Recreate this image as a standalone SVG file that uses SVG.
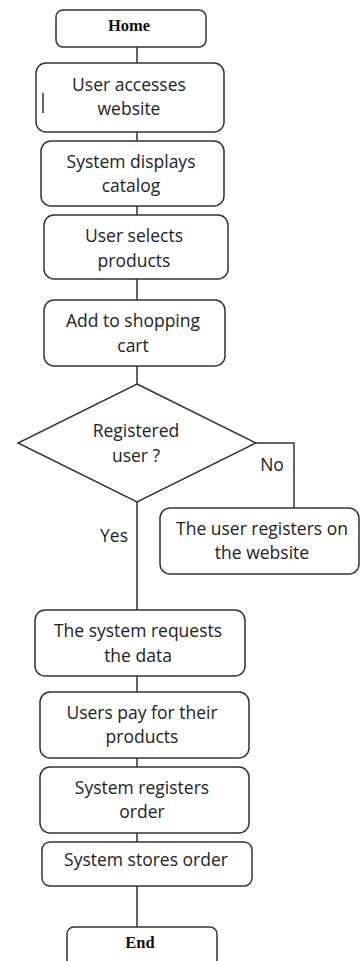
<svg xmlns="http://www.w3.org/2000/svg" width="360" height="961" viewBox="0 0 360 961">
<style>
.box{fill:#fff;stroke:#333;stroke-width:1.5}
.t{font-family:"Open Sans","Liberation Sans",sans-serif;font-size:17.5px;fill:#222;text-anchor:middle}
.s{font-family:"Liberation Serif",serif;font-size:16.5px;font-weight:bold;fill:#111;text-anchor:middle}
.c{fill:none;stroke:#333;stroke-width:1.5}
</style>
<rect width="360" height="961" fill="#fff"/>
<g id="connectors">
<path class="c" d="M137 47V63M137 132V141M137 206V215M137 279V300M137 366V384M137 502V610M137 676V692M137 758V767M137 833V842M137 886V927"/>
<path class="c" d="M256 443H294V508"/>
<text class="t" x="114" y="542">Yes</text>
<text class="t" x="272" y="471">No</text>
</g>
<g id="home"><rect class="box" x="56" y="10" width="150" height="37" rx="7"/><text class="s" x="129" y="31">Home</text></g>
<g id="access"><rect class="box" x="36" y="63" width="188" height="69" rx="10"/><text class="t" x="129" y="91">User accesses</text><text class="t" x="129" y="115">website</text><path class="c" d="M43 93V113"/></g>
<g id="catalog"><rect class="box" x="41" y="141" width="183" height="65" rx="10"/><text class="t" x="131" y="168">System displays</text><text class="t" x="131" y="192">catalog</text></g>
<g id="select"><rect class="box" x="44" y="215" width="184" height="64" rx="10"/><text class="t" x="134" y="242">User selects</text><text class="t" x="134" y="267">products</text></g>
<g id="cart"><rect class="box" x="44" y="300" width="181" height="66" rx="10"/><text class="t" x="133" y="327">Add to shopping</text><text class="t" x="133" y="352">cart</text></g>
<g id="decision"><polygon class="box" points="137,384 256,443 137,502 18,443"/><text class="t" x="136" y="437">Registered</text><text class="t" x="136" y="462">user ?</text></g>
<g id="register"><rect class="box" x="160" y="508" width="199" height="66" rx="10"/><text class="t" x="262" y="535">The user registers on</text><text class="t" x="262" y="559">the website</text></g>
<g id="request"><rect class="box" x="35" y="610" width="210" height="66" rx="10"/><text class="t" x="138" y="637">The system requests</text><text class="t" x="138" y="662">the data</text></g>
<g id="pay"><rect class="box" x="40" y="692" width="209" height="66" rx="10"/><text class="t" x="142" y="719">Users pay for their</text><text class="t" x="142" y="743">products</text></g>
<g id="regorder"><rect class="box" x="40" y="767" width="209" height="66" rx="10"/><text class="t" x="142" y="794">System registers</text><text class="t" x="142" y="818">order</text></g>
<g id="store"><rect class="box" x="42" y="842" width="210" height="44" rx="8"/><text class="t" x="146" y="866">System stores order</text></g>
<g id="end"><rect class="box" x="67" y="927" width="150" height="44" rx="7"/><text class="s" x="140" y="948">End</text></g>
</svg>
